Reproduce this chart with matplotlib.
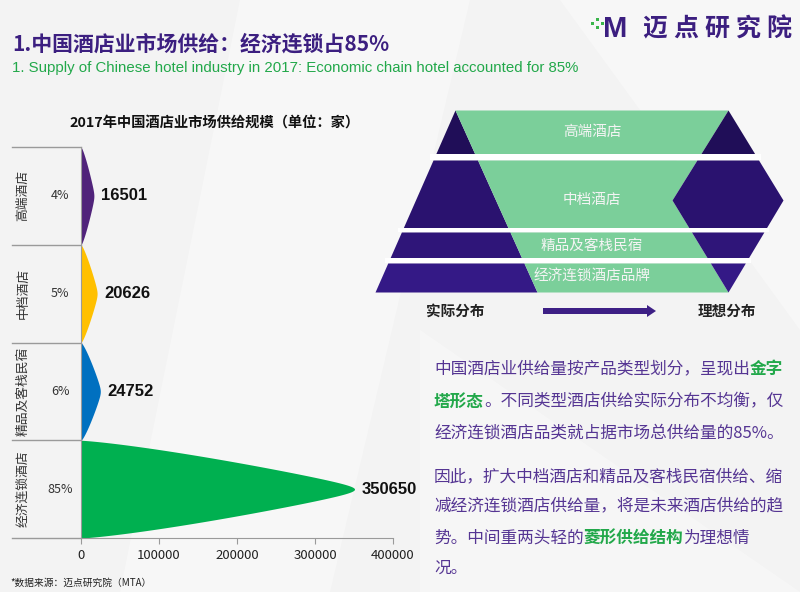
import matplotlib
matplotlib.use('Agg')
import matplotlib.pyplot as plt
import matplotlib.transforms as mtransforms
from matplotlib.patches import Polygon, Rectangle, FancyArrow
import numpy as np

plt.rcParams['font.family'] = ['Noto Sans CJK SC', 'DejaVu Sans']

# data
categories = ['高端酒店', '中档酒店', '精品及客栈民宿', '经济连锁酒店']
supply = [16501, 20626, 24752, 350650]
shares = ['4%', '5%', '6%', '85%']
peak_colors = ['#50237a', '#ffc000', '#0070c0', '#00b050']
xticks = [0, 100000, 200000, 300000, 400000]
band_names = ['高端酒店', '中档酒店', '精品及客栈民宿', '经济连锁酒店品牌']

PURPLE = '#3c1f80'
TEXT_PURPLE = '#553593'
GREEN = '#22a84a'

fig = plt.figure(figsize=(8, 5.92), dpi=100)
fig.patch.set_facecolor('#f3f3f3')

# full-figure canvas in pixel coordinates
bg = fig.add_axes([0, 0, 1, 1])
bg.set_xlim(0, 800)
bg.set_ylim(592, 0)
bg.axis('off')

# faint background facets
bg.add_patch(Polygon([(240, 0), (470, 0), (330, 592), (120, 592)], closed=True, color='white', alpha=0.35, lw=0))
bg.add_patch(Polygon([(560, 0), (800, 0), (800, 330)], closed=True, color='white', alpha=0.35, lw=0))
bg.add_patch(Polygon([(420, 330), (800, 592), (420, 592)], closed=True, color='white', alpha=0.3, lw=0))

# titles
bg.text(12, 44, '1.中国酒店业市场供给：经济连锁占85%', fontsize=15, fontweight='bold',
        color=PURPLE, va='center', ha='left')
bg.text(12, 68, '1. Supply of Chinese hotel industry in 2017: Economic chain hotel accounted for 85%',
        fontsize=10.8, color=GREEN, va='center', ha='left',
        family=['Liberation Sans', 'DejaVu Sans'])

# logo
for (lx, ly) in [(591, 22), (596, 18), (596, 26), (601, 22)]:
    bg.add_patch(Rectangle((lx, ly), 3, 3, color='#3ab54a', lw=0))
bg.text(603, 29, 'M', fontsize=21, fontweight='bold', color=PURPLE,
        va='center', ha='left', family=['Liberation Sans', 'DejaVu Sans'])
for k, ch in enumerate('迈点研究院'):
    bg.text(655 + k * 31, 29, ch, fontsize=18, fontweight='bold', color=PURPLE,
            va='center', ha='center')

# left chart
bg.text(215, 123, '2017年中国酒店业市场供给规模（单位：家）', fontsize=10.3, fontweight='bold',
        color='#111111', va='center', ha='center')

ax = fig.add_axes([81 / 800, 1 - 538 / 592, 312 / 800, 391 / 592])
ax.set_facecolor('none')
ax.set_xlim(0, 400000)
ax.set_ylim(len(categories), 0)

e = 0.1
for i, (v, c) in enumerate(zip(supply, peak_colors)):
    y = np.linspace(i, i + 1, 400)
    t = np.abs(y - (i + 0.5)) / 0.5
    t = (np.sqrt(t ** 2 + e ** 2) - e) / (np.sqrt(1 + e ** 2) - e)
    w = v * np.clip(1 - t, 0, 1) ** 0.8
    ax.fill_betweenx(y, 0, w, color=c, lw=0)
    ax.text(v + 9000, i + 0.5, str(v), fontsize=12, fontweight='bold', color='#111111',
            va='center', ha='left', family=['Liberation Sans', 'DejaVu Sans'])

trans = mtransforms.blended_transform_factory(ax.transAxes, ax.transData)
for b in range(len(categories) + 1):
    ax.plot([-0.221, 0], [b, b], transform=trans, color='#9a9a9a', lw=1, clip_on=False)
for i, (name, s) in enumerate(zip(categories, shares)):
    ax.text(-0.186, i + 0.5, name, rotation=90, transform=trans, ha='center', va='center',
            fontsize=9.2, color='#333333')
    ax.text(-0.067, i + 0.5, s, transform=trans, ha='center', va='center',
            fontsize=9, color='#333333')

for side in ['top', 'right']:
    ax.spines[side].set_visible(False)
for side in ['left', 'bottom']:
    ax.spines[side].set_color('#9a9a9a')
ax.set_yticks([])
ax.set_xticks(xticks)
ax.set_xticklabels([str(x) for x in xticks])
ax.tick_params(axis='x', length=4, color='#9a9a9a', labelsize=9.5, labelcolor='#222222', pad=4)

bg.text(10, 583, '*数据来源：迈点研究院（MTA）', fontsize=7, color='#222222', va='center', ha='left')

# right diagram: actual (pyramid) vs ideal (diamond)
def tri_l(y):
    return np.interp(y, [110, 292], [455, 375])

def tri_r(y):
    return np.interp(y, [110, 292], [455, 537])

def rh_l(y):
    return np.interp(y, [110, 200, 292], [728, 672, 728])

def rh_r(y):
    return np.interp(y, [110, 200, 292], [728, 783, 728])

bands = [(110, 154), (160, 228), (232, 258), (263, 292)]
band_colors = ['#200e58', '#2a126f', '#2f1579', '#341986']
band_text_y = [132, 200, 246, 277]
for (y0, y1), bc, name, ty in zip(bands, band_colors, band_names, band_text_y):
    ys = np.linspace(y0, y1, 80)
    if y0 < 200 < y1:
        ys = np.sort(np.append(ys, 200))
    bg.fill_betweenx(ys, tri_l(ys), tri_r(ys), color=bc, lw=0)
    bg.fill_betweenx(ys, tri_r(ys), rh_l(ys), color='#7bcf9a', lw=0)
    bg.fill_betweenx(ys, rh_l(ys), rh_r(ys), color=bc, lw=0)
    bg.text(592, ty, name, fontsize=10.5, color='#f4f4f4', ha='center', va='center')

for (a, b) in [(154, 160), (228, 232), (258, 263)]:
    m = (a + b) / 2
    bg.add_patch(Rectangle((tri_l(m) - 4, a), rh_r(m) - tri_l(m) + 8, b - a, color='white', lw=0))

bg.text(455, 311, '实际分布', fontsize=10.5, fontweight='bold', color='#222222', ha='center', va='center')
bg.text(727, 311, '理想分布', fontsize=10.5, fontweight='bold', color='#222222', ha='center', va='center')
bg.add_patch(FancyArrow(543, 311, 113, 0, width=6, head_width=12, head_length=9,
                        length_includes_head=True, color='#3d1f85', lw=0))

# paragraph text
renderer = fig.canvas.get_renderer()

def rich_line(x, y, pieces):
    for txt, hl in pieces:
        t = bg.text(x, y, txt, fontsize=12.0, va='center', ha='left',
                    color=GREEN if hl else TEXT_PURPLE,
                    fontweight='bold' if hl else 'normal')
        x += t.get_window_extent(renderer).width

lines = [
    (369, [('中国酒店业供给量按产品类型划分，呈现出', False), ('金字', True)]),
    (402, [('塔形态', True), ('。不同类型酒店供给实际分布不均衡，仅', False)]),
    (433, [('经济连锁酒店品类就占据市场总供给量的85%。', False)]),
    (477, [('因此，扩大中档酒店和精品及客栈民宿供给、缩', False)]),
    (506, [('减经济连锁酒店供给量，将是未来酒店供给的趋', False)]),
    (538, [('势。中间重两头轻的', False), ('菱形供给结构', True), ('为理想情', False)]),
    (568, [('况。', False)]),
]
for ly, pieces in lines:
    rich_line(434, ly, pieces)

fig.savefig('out.png', dpi=100, facecolor=fig.get_facecolor())
